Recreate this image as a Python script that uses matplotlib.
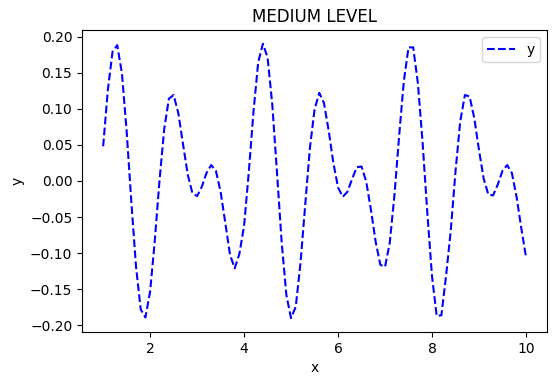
import numpy as np
import matplotlib
matplotlib.use("Agg")
import matplotlib.pyplot as plt

# valores
x = [1.0, 1.1, 1.2, 1.3, 1.4, 1.5, 1.6, 1.7, 1.8, 1.9,
     2.0, 2.1, 2.2, 2.3, 2.4, 2.5, 2.6, 2.7, 2.8, 2.9,
     3.0, 3.1, 3.2, 3.3, 3.4, 3.5, 3.6, 3.7, 3.8, 3.9,
     4.0, 4.1, 4.2, 4.3, 4.4, 4.5, 4.6, 4.7, 4.8, 4.9,
     5.0, 5.1, 5.2, 5.3, 5.4, 5.5, 5.6, 5.7, 5.8, 5.9,
     6.0, 6.1, 6.2, 6.3, 6.4, 6.5, 6.6, 6.7, 6.8, 6.9,
     7.0, 7.1, 7.2, 7.3, 7.4, 7.5, 7.6, 7.7, 7.8, 7.9,
     8.0, 8.1, 8.2, 8.3, 8.4, 8.5, 8.6, 8.7, 8.8, 8.9,
     9.0, 9.1, 9.2, 9.3, 9.4, 9.5, 9.6, 9.7, 9.8, 9.9,
     10.0]
y = [0.048, 0.126, 0.179, 0.188, 0.149, 0.069, -0.029, -0.119, -0.178, -0.189,
     -0.153, -0.082, 0.001, 0.072, 0.114, 0.119, 0.094, 0.051, 0.009, -0.017,
     -0.021, -0.008, 0.011, 0.022, 0.014, -0.015, -0.058, -0.102, -0.121, -0.101,
     -0.062, 0.012, 0.096, 0.164, 0.190, 0.171, 0.106, 0.012, -0.085, -0.158,
     -0.190, -0.174, -0.114, -0.034, 0.045, 0.099, 0.122, 0.108, 0.070, 0.025,
     -0.009, -0.022, -0.015, 0.003, 0.019, 0.020, -0.001, -0.040, -0.084, -0.116,
     -0.119, -0.086, -0.020, 0.062, 0.138, 0.185, 0.185, 0.135, 0.053, -0.044,
     -0.132, -0.187, -0.186, -0.131, -0.068, 0.013, 0.082, 0.119, 0.117, 0.087,
     0.043, 0.003, -0.019, -0.020, -0.005, 0.014, 0.022, 0.011, -0.022, -0.065,
     -0.105]

fig = plt.figure(figsize=(5.56, 3.85), dpi=100)
ax = fig.add_axes([0.1475, 0.138, 0.8365, 0.784])
ax.plot(x, y, 'b--', label='y')
ax.set_title('MEDIUM LEVEL')
ax.set_xlabel('x')
ax.set_ylabel('y')
ax.legend(loc='upper right')
fig.savefig('out.png', dpi=100)
